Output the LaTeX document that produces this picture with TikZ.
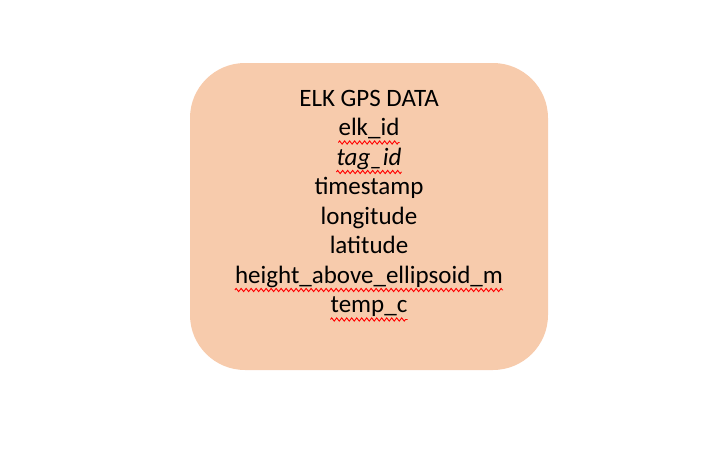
\documentclass[tikz,border=0pt]{standalone}
\usepackage{fontspec}
\setmainfont{Carlito}
\usetikzlibrary{decorations.pathmorphing}
\definecolor{peach}{HTML}{F7CBAC}
\tikzset{
  field/.style={anchor=base, inner sep=0pt, font=\fontsize{25}{29}\selectfont},
  spell/.style={red, line width=0.9pt, decorate, decoration={zigzag, segment length=5pt, amplitude=1.6pt}},
}
\begin{document}
\begin{tikzpicture}[x=1pt,y=-1pt]
    \useasboundingbox (0,0) rectangle (728,458);
    \fill[peach, rounded corners=55pt] (190,63) rectangle (548,370);
    %
    \node[field] (title) at (369,106) {ELK GPS DATA};
    \node[field] (elk) at (369,135.5) {elk\_id};
    \node[field] (tag) at (369,165) {\itshape tag\_id};
    \node[field] (time) at (369,194.5) {timestamp};
    \node[field] (lon) at (369,224) {longitude};
    \node[field] (lat) at (369,253.5) {latitude};
    \node[field] (height) at (369,283) {height\_above\_ellipsoid\_m};
    \node[field] (temp) at (369,312.5) {temp\_c};
    %
    \foreach \w in {elk, tag, height, temp}
        \draw[spell] ([yshift=-7pt]\w.base west) -- ([yshift=-7pt]\w.base east);
\end{tikzpicture}
\end{document}
